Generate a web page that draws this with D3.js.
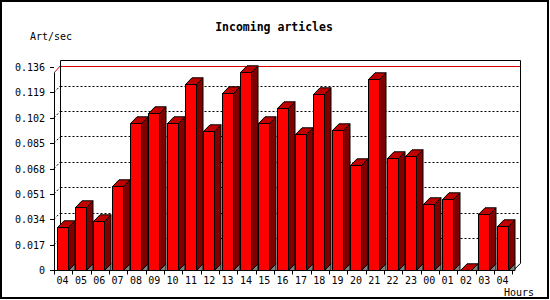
<!DOCTYPE html>
<html>
<head>
<meta charset="utf-8">
<script src="https://cdn.jsdelivr.net/npm/d3@7"></script>
<style>
html,body{margin:0;padding:0;background:#fff;}
svg{display:block;}
text{font-family:"DejaVu Sans Mono",monospace;fill:#000;}
</style>
</head>
<body>
<svg id="chart" width="550" height="300"></svg>
<script>
const hours = ["04","05","06","07","08","09","10","11","12","13","14","15","16","17","18","19","20","21","22","23","00","01","02","03","04"];
const values = [0.0286,0.0424,0.0330,0.0561,0.0987,0.1050,0.0983,0.1244,0.0929,0.1184,0.1324,0.0983,0.1083,0.0909,0.1177,0.0936,0.0703,0.1277,0.0748,0.0764,0.0440,0.0474,0.0,0.0373,0.0297];
const yTicks = [0,0.017,0.034,0.051,0.068,0.085,0.102,0.119,0.136];
const yTickLabels = ["0","0.017","0.034","0.051","0.068","0.085","0.102","0.119","0.136"];
const title = "Incoming articles";
const yTitle = "Art/sec";
const xTitle = "Hours";

const svg = d3.select("#chart");
const DX = 6.5, DY = 6.7;
const x0 = 54, x1 = 512.33;
const x = d3.scaleBand().domain(d3.range(hours.length)).range([x0, x1]).padding(0);
const y = d3.scaleLinear().domain([0, 0.136]).range([270, 67]);

// border
svg.append("rect").attr("x",1).attr("y",1).attr("width",547).attr("height",297)
  .attr("fill","#fff").attr("stroke","#000").attr("stroke-width",2);

// title texts
svg.append("text").attr("x",274).attr("y",31).attr("text-anchor","middle")
  .style("font-weight","bold").style("font-size","11.5px").text(title);
svg.append("text").attr("x",30).attr("y",40).style("font-size","10px").text(yTitle);
svg.append("text").attr("x",504).attr("y",296).style("font-size","10px").text(xTitle);

const bx0 = x0 + DX, byTop = y(0.136) - DY, byBot = y(0) - DY, bx1 = x1 + DX + 1.7;

// back gridlines (dotted)
const g = svg.append("g");
yTicks.slice(1, -1).forEach(t => {
  const yy = Math.round(y(t) - DY) + 0.5;
  g.append("line").attr("x1", bx0).attr("x2", bx1).attr("y1", yy).attr("y2", yy)
    .attr("stroke","#000").attr("stroke-dasharray","2,2");
  g.append("line").attr("x1", x0).attr("y1", y(t)).attr("x2", bx0).attr("y2", y(t) - DY)
    .attr("stroke","#000").attr("stroke-dasharray","2,2");
});

// max line (red)
const maxV = d3.max(values);
const ym = Math.round(y(maxV) - DY) + 0.5;
g.append("line").attr("x1", bx0).attr("x2", bx1).attr("y1", ym).attr("y2", ym).attr("stroke","#e00000");
g.append("line").attr("x1", x0+0.5).attr("y1", y(maxV)).attr("x2", bx0).attr("y2", y(maxV)-DY).attr("stroke","#e00000");

// back frame
g.append("path")
  .attr("d", `M${bx0},${byBot} L${bx0},${Math.round(byTop)+0.5} L${bx1},${Math.round(byTop)+0.5} L${bx1},${byBot} L${x1+1},270.5`)
  .attr("fill","none").attr("stroke","#000");

// front axes
g.append("line").attr("x1", x0+0.5).attr("x2", x0+0.5).attr("y1", y(maxV)).attr("y2", 270.5).attr("stroke","#000");
g.append("line").attr("x1", x0).attr("x2", x1+1).attr("y1", 270.5).attr("y2", 270.5).attr("stroke","#000");

// y ticks + labels
yTicks.forEach((t, i) => {
  const yy = Math.round(y(t)) + 0.5;
  g.append("line").attr("x1", 50).attr("x2", 54).attr("y1", yy).attr("y2", yy).attr("stroke","#000");
  g.append("text").attr("x", 45).attr("y", y(t) + 4).attr("text-anchor","end")
    .style("font-size","10px").text(yTickLabels[i]);
});

// x ticks + labels
d3.range(hours.length + 1).forEach(i => {
  const xx = Math.round(x0 + i * x.bandwidth()) + 0.5;
  g.append("line").attr("x1", xx).attr("x2", xx).attr("y1", 270).attr("y2", 274.5).attr("stroke","#000");
});
hours.forEach((h, i) => {
  g.append("text").attr("x", x(i) + 8.6).attr("y", 283.5).attr("text-anchor","middle")
    .style("font-size","10px").text(h);
});

// bars
const W = 11;
const bars = svg.append("g").attr("stroke","#000").attr("stroke-width",1).attr("stroke-linejoin","miter");
values.forEach((v, i) => {
  const xl = Math.round(x(i) + 2.8) + 0.5;
  const xr = xl + W;
  const yt = Math.round(y(v)) + 0.5;
  const yb = 270.5;
  // floor triangle
  bars.append("path").attr("d", `M${xr},${yb} L${xr+DX},${yb-DY} L${xr+DX},${yb} Z`).attr("fill","#808080");
  // side
  bars.append("path").attr("d", `M${xr},${yt} L${xr+DX},${yt-DY} L${xr+DX},${yb-DY} L${xr},${yb} Z`).attr("fill","#800000");
  // top
  bars.append("path").attr("d", `M${xl},${yt} L${xl+DX},${yt-DY} L${xr+DX},${yt-DY} L${xr},${yt} Z`).attr("fill","#c00000");
  // front
  if (v > 0) bars.append("rect").attr("x", xl).attr("y", yt).attr("width", W).attr("height", yb - yt).attr("fill","#ff0000");
});
</script>
</body>
</html>
